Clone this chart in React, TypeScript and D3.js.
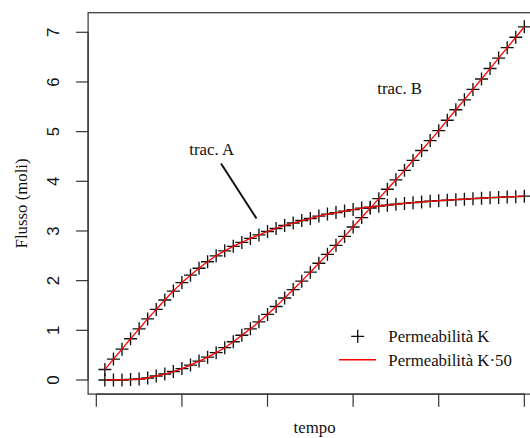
import React from "react";
import * as d3 from "d3";

const tempo = d3.range(1, 51);
const seriesA = [
  0.21, 0.42, 0.62, 0.83, 1.03, 1.23, 1.42, 1.61, 1.79, 1.96,
  2.11, 2.25, 2.38, 2.5, 2.6, 2.69, 2.77, 2.85, 2.92, 2.99,
  3.05, 3.11, 3.16, 3.21, 3.25, 3.3, 3.34, 3.37, 3.4, 3.43,
  3.46, 3.48, 3.5, 3.52, 3.54, 3.555, 3.57, 3.585, 3.6, 3.61,
  3.62, 3.63, 3.64, 3.65, 3.66, 3.67, 3.675, 3.685, 3.69, 3.7,
];
const seriesB = [
  0.0, 0.0, 0.0, 0.01, 0.02, 0.04, 0.08, 0.12, 0.17, 0.23,
  0.3, 0.38, 0.46, 0.55, 0.65, 0.77, 0.9, 1.03, 1.17, 1.32,
  1.48, 1.65, 1.82, 1.99, 2.17, 2.35, 2.53, 2.71, 2.89, 3.08,
  3.27, 3.46, 3.65, 3.84, 4.03, 4.22, 4.42, 4.62, 4.82, 5.02,
  5.23, 5.44, 5.64, 5.85, 6.06, 6.27, 6.48, 6.69, 6.9, 7.11,
];
const xTicks = [0, 10, 20, 30, 40, 50];
const yTicks = [0, 1, 2, 3, 4, 5, 6, 7];
const legendLabels = ["Permeabilità K", "Permeabilità K·50"];

const W = 530;
const H = 438;
const serif = "'Liberation Serif', 'DejaVu Serif', serif";
const sans = "'Liberation Sans', Arial, sans-serif";
const FS = 16.8;

export default function App() {
  // R-style 4% axis extension
  const xmin = 1, xmax = 50;
  const xr = (xmax - xmin) * 0.04;
  const ymin = 0, ymax = d3.max([...seriesA, ...seriesB]) as number;
  const yr = (ymax - ymin) * 0.04;

  const left = 88.1, right = 541.1, top = 12.7, bottom = 394.1;
  const x = d3.scaleLinear().domain([xmin - xr, xmax + xr]).range([left, right]);
  const y = d3.scaleLinear().domain([ymin - yr, ymax + yr]).range([bottom, top]);

  const line = d3
    .line<number>()
    .x((_, i) => x(tempo[i]))
    .y((d) => y(d))
    .curve(d3.curveMonotoneX);

  const plus = (cx: number, cy: number, s: number, key: string) => (
    <path
      key={key}
      d={`M${cx - s},${cy}H${cx + s}M${cx},${cy - s}V${cy + s}`}
      stroke="#111"
      strokeWidth={1.35}
      fill="none"
    />
  );

  return (
    <svg
      width={W}
      height={H}
      style={{ position: "absolute", left: 0, top: 0, background: "#fff" }}
    >
      <rect x={0} y={0} width={W} height={H} fill="#fff" />
      {/* box */}
      <rect
        x={left}
        y={top}
        width={right - left}
        height={bottom - top}
        fill="none"
        stroke="#333"
        strokeWidth={1.2}
      />
      {/* y axis */}
      <line x1={left} x2={left} y1={y(yTicks[0])} y2={y(yTicks[yTicks.length - 1])} stroke="#333" strokeWidth={1.2} />
      {yTicks.map((t) => (
        <g key={"yt" + t}>
          <line x1={left - 12} x2={left} y1={y(t)} y2={y(t)} stroke="#333" strokeWidth={1.2} />
          <text
            transform={`translate(59.3,${y(t)}) rotate(-90)`}
            textAnchor="middle"
            fontFamily={sans}
            fontSize={FS}
            fill="#111"
          >
            {t}
          </text>
        </g>
      ))}
      {/* x axis */}
      <line x1={x(xTicks[0])} x2={x(xTicks[xTicks.length - 1])} y1={bottom} y2={bottom} stroke="#333" strokeWidth={1.2} />
      {xTicks.map((t) => (
        <line key={"xt" + t} x1={x(t)} x2={x(t)} y1={bottom} y2={bottom + 12.6} stroke="#333" strokeWidth={1.2} />
      ))}
      {/* axis titles */}
      <text x={(left + right) / 2} y={433} textAnchor="middle" fontFamily={serif} fontSize={FS} fill="#111">
        tempo
      </text>
      <text
        transform={`translate(27,${(top + bottom) / 2}) rotate(-90)`}
        textAnchor="middle"
        fontFamily={serif}
        fontSize={FS}
        fill="#111"
      >
        Flusso (moli)
      </text>
      {/* points */}
      {seriesA.map((v, i) => plus(x(tempo[i]), y(v), 6.5, "pa" + i))}
      {seriesB.map((v, i) => plus(x(tempo[i]), y(v), 6.5, "pb" + i))}
      {/* red lines */}
      <path d={line(seriesA) as string} fill="none" stroke="#ff0000" strokeWidth={1.3} />
      <path d={line(seriesB) as string} fill="none" stroke="#ff0000" strokeWidth={1.3} />
      {/* annotations */}
      <text x={211.7} y={155} textAnchor="middle" fontFamily={serif} fontSize={FS} fill="#111">
        trac. A
      </text>
      <line x1={221} y1={163.5} x2={256.5} y2={218.5} stroke="#111" strokeWidth={2} />
      <text x={399.7} y={94} textAnchor="middle" fontFamily={serif} fontSize={FS} fill="#111">
        trac. B
      </text>
      {/* legend */}
      {plus(357.7, 336.3, 6.5, "leg")}
      <line x1={339} x2={376} y1={359.7} y2={359.7} stroke="#ff0000" strokeWidth={1.5} />
      <text x={388.3} y={336.3} dy="0.35em" fontFamily={serif} fontSize={FS} fill="#111">
        {legendLabels[0]}
      </text>
      <text x={388.3} y={359.7} dy="0.35em" fontFamily={serif} fontSize={FS} fill="#111">
        {legendLabels[1]}
      </text>
    </svg>
  );
}
